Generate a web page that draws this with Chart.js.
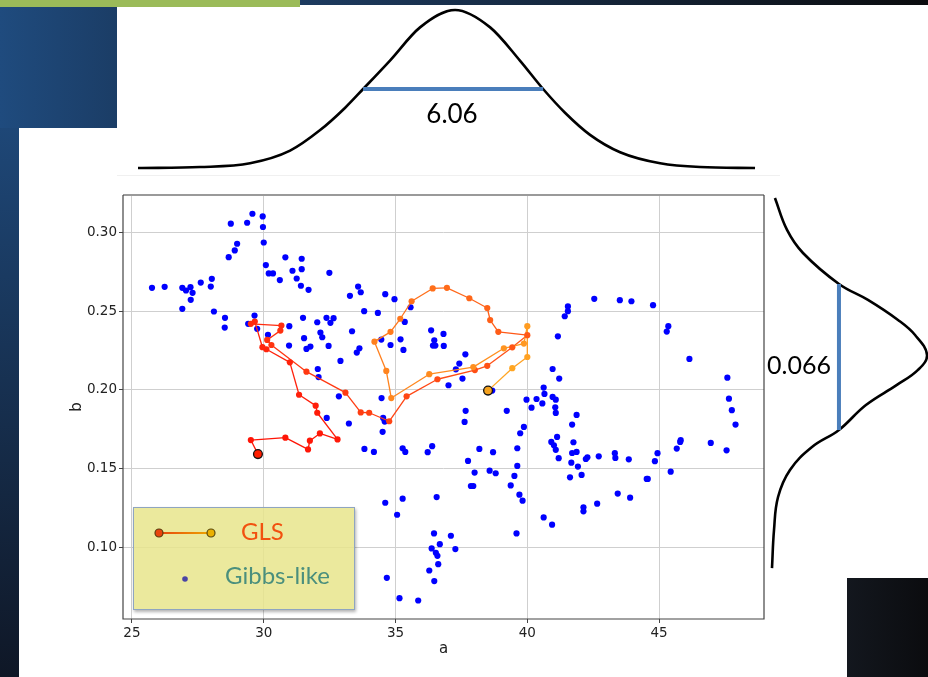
<!DOCTYPE html>
<html>
<head>
<meta charset="utf-8">
<script src="https://cdn.jsdelivr.net/npm/chart.js@4.4.1/dist/chart.umd.min.js"></script>
<style>
  html, body { margin: 0; padding: 0; background: #fff; }
  body { width: 928px; height: 677px; position: relative; overflow: hidden; }
  .deco { position: absolute; }
  canvas { position: absolute; }
  .label { position: absolute; font-family: Lato, sans-serif; color: #000; white-space: nowrap; line-height: 1; }
  .legendText { position: absolute; font-family: Lato, sans-serif; font-size: 24px; line-height: 1; white-space: nowrap; }
</style>
</head>
<body>
<!-- slide decorations -->
<div class="deco" style="left:0;top:0;width:300px;height:7px;background:#9bbb59"></div>
<div class="deco" style="left:300px;top:0;width:628px;height:5px;background:linear-gradient(90deg,#1d3b60,#0b0c0e)"></div>
<div class="deco" style="left:0;top:7px;width:117px;height:121px;background:linear-gradient(90deg,#1f4b7e,#1b3d66)"></div>
<div class="deco" style="left:0;top:128px;width:19px;height:549px;background:linear-gradient(180deg,#1e4777,#0f1726)"></div>
<div class="deco" style="left:847px;top:578px;width:81px;height:99px;background:linear-gradient(90deg,#13171e,#0b0c0f)"></div>
<div class="deco" style="left:117px;top:175px;width:663px;height:1px;background:#f0f0f0"></div>

<canvas id="topCurve" width="641" height="180" style="left:123px;top:0"></canvas>
<canvas id="scatter" width="710" height="490" style="left:60px;top:185px"></canvas>
<canvas id="sideCurve" width="164" height="420" style="left:764px;top:180px"></canvas>

<div class="label" style="left:402px;top:100px;width:100px;text-align:center;font-size:26px">6.06</div>
<div class="label" style="left:767px;top:352px;font-size:25px">0.066</div>

<div class="deco" style="left:133px;top:507px;width:220px;height:101px;background:rgba(232,229,140,0.85);border:1.5px solid #8fa5c0;box-shadow:1px 2px 3px rgba(0,0,0,0.3)"></div>
<svg class="deco" width="223" height="104" style="left:133px;top:507px">
  <defs>
    <linearGradient id="glsGrad" gradientUnits="userSpaceOnUse" x1="26" y1="0" x2="78" y2="0">
      <stop offset="0" stop-color="#e8440c"/>
      <stop offset="1" stop-color="#eea800"/>
    </linearGradient>
  </defs>
  <line x1="26" y1="26" x2="78" y2="26" stroke="url(#glsGrad)" stroke-width="2.2"/>
  <circle cx="26" cy="26" r="4" fill="#e8440c" stroke="#5a3a10" stroke-width="1.2"/>
  <circle cx="78" cy="26" r="4" fill="#eab000" stroke="#5a4a10" stroke-width="1.2"/>
  <circle cx="52" cy="72" r="2.8" fill="#4a45a5"/>
</svg>
<div class="legendText" style="left:241px;top:519px;color:#f2510f">GLS</div>
<div class="legendText" style="left:225px;top:563px;color:#4a8f7d">Gibbs-like</div>

<script>
// Gibbs-like samples (a, b)
const gibbsA = [
  25.76, 26.24, 26.91, 27.05, 27.22, 27.30, 27.23, 26.91, 27.61, 28.03, 27.99, 28.11, 28.53, 28.52, 28.67, 28.75, 28.90, 28.99,
  29.37, 29.57, 29.96, 29.97, 30.00, 30.08, 30.19, 30.35, 30.61, 30.82, 31.09, 31.44, 31.44, 31.25, 31.41, 31.70, 32.49, 29.65,
  29.41, 29.75, 30.16, 30.97, 31.49, 32.03, 32.38, 32.65, 32.53, 32.15, 32.22, 31.53, 31.77, 31.62, 30.96, 32.46, 32.05, 32.08,
  33.58, 33.68, 33.27, 34.61, 34.96, 33.81, 34.33, 35.57, 35.35, 33.35, 34.46, 34.81, 35.19, 35.30, 33.63, 33.53, 32.91, 36.35,
  36.82, 36.47, 36.42, 36.51, 36.83, 37.65, 37.42, 37.29, 37.54, 37.01, 32.85, 34.47, 38.67, 39.97, 40.16, 40.35, 40.57, 40.62, 40.65,
  40.96, 41.08, 41.06, 40.96, 41.21, 41.16, 41.42, 41.54, 41.54, 42.54, 43.51, 43.95, 44.77, 45.35, 45.29, 46.15, 47.59, 47.65,
  32.39,
  37.66, 37.62, 39.22, 39.87, 39.73, 33.23, 34.51, 34.53, 34.59, 33.82, 34.18, 35.27, 35.37, 36.22, 36.39, 38.18, 38.70, 39.62,
  37.75, 38.00, 38.57, 38.80, 39.62, 39.51, 37.86, 37.95, 39.37, 39.70, 39.82, 40.62, 34.61, 35.27, 35.06, 36.56, 39.59, 36.46,
  37.10, 36.68, 36.37, 37.27, 36.53, 36.59, 36.62, 36.28, 36.47, 34.67, 35.15, 35.86,
  41.08, 41.87, 41.70, 47.76, 47.90, 41.13, 40.91, 41.01, 41.08, 41.19, 41.75, 41.70, 41.87, 41.67, 41.92, 42.22, 42.28, 42.71,
  43.32, 43.34, 43.85, 41.62, 42.06, 44.53, 44.57, 43.43, 43.90, 42.65, 42.13, 42.13, 40.94, 44.84, 44.94, 45.44, 45.67, 45.80,
  45.82, 46.96, 47.56
];
const gibbsB = [
  0.2647, 0.2653, 0.2647, 0.2630, 0.2651, 0.2615, 0.2571, 0.2514, 0.2680, 0.2704, 0.2655, 0.2497, 0.2457, 0.2395, 0.2841, 0.3053, 0.2884, 0.2926,
  0.3059, 0.3116, 0.3099, 0.3032, 0.2934, 0.2791, 0.2738, 0.2738, 0.2696, 0.2840, 0.2755, 0.2831, 0.2765, 0.2706, 0.2660, 0.2634, 0.2742, 0.2471,
  0.2419, 0.2387, 0.2349, 0.2404, 0.2457, 0.2429, 0.2457, 0.2455, 0.2425, 0.2364, 0.2334, 0.2328, 0.2275, 0.2260, 0.2281, 0.2279, 0.2133, 0.2082,
  0.2655, 0.2619, 0.2596, 0.2607, 0.2575, 0.2499, 0.2488, 0.2524, 0.2431, 0.2372, 0.2319, 0.2285, 0.2321, 0.2254, 0.2264, 0.2237, 0.2184, 0.2378,
  0.2355, 0.2315, 0.2281, 0.2281, 0.2279, 0.2226, 0.2167, 0.2131, 0.2072, 0.2030, 0.1960, 0.1949, 0.1996, 0.1939, 0.1888, 0.1943, 0.1915, 0.2015, 0.1975,
  0.1956, 0.1939, 0.1890, 0.2133, 0.2072, 0.2340, 0.2467, 0.2499, 0.2529, 0.2577, 0.2569, 0.2562, 0.2537, 0.2404, 0.2370, 0.2197, 0.2078, 0.1945,
  0.1823,
  0.1868, 0.1798, 0.1868, 0.1766, 0.1726, 0.1788, 0.1735, 0.1823, 0.1800, 0.1627, 0.1608, 0.1631, 0.1608, 0.1606, 0.1644, 0.1627, 0.1606, 0.1631,
  0.1551, 0.1477, 0.1489, 0.1473, 0.1519, 0.1456, 0.1392, 0.1392, 0.1396, 0.1337, 0.1299, 0.1193, 0.1286, 0.1312, 0.1210, 0.1322, 0.1092, 0.1092,
  0.1077, 0.1024, 0.0997, 0.0993, 0.0969, 0.0950, 0.0897, 0.0857, 0.0790, 0.0811, 0.0682, 0.0667,
  0.1855, 0.1842, 0.1781, 0.1872, 0.1781, 0.1703, 0.1671, 0.1650, 0.1621, 0.1568, 0.1669, 0.1601, 0.1608, 0.1540, 0.1515, 0.1563, 0.1574, 0.1580,
  0.1600, 0.1570, 0.1561, 0.1447, 0.1462, 0.1437, 0.1437, 0.1344, 0.1318, 0.1280, 0.1257, 0.1232, 0.1147, 0.1549, 0.1600, 0.1483, 0.1629, 0.1671,
  0.1682, 0.1665, 0.1618
];

// GLS path, in order from start to end
const glsA = [
  29.78, 29.51, 30.82, 31.68, 31.75, 32.13, 32.80, 32.03, 31.97, 31.34,
  30.99, 30.10, 29.95, 29.66, 29.51, 30.67, 30.63, 30.13, 30.29, 31.62,
  33.10, 33.68, 34.00, 34.76, 35.42, 36.59, 38.01, 38.48, 39.43, 40.00,
  38.90, 38.59, 38.48, 37.80, 36.95, 36.41, 35.61, 35.18, 34.81, 34.20,
  34.65, 34.84, 36.28, 37.95, 39.11, 39.87, 40.00, 40.00, 39.43, 38.51
];
const glsB = [
  0.1594, 0.1683, 0.1698, 0.1624, 0.1679, 0.1725, 0.1687, 0.1856, 0.1901, 0.1970,
  0.2175, 0.2258, 0.2271, 0.2433, 0.2419, 0.2408, 0.2376, 0.2317, 0.2285, 0.2116,
  0.1983, 0.1858, 0.1856, 0.1802, 0.1960, 0.2068, 0.2126, 0.2153, 0.2270, 0.2347,
  0.2368, 0.2443, 0.2519, 0.2581, 0.2647, 0.2643, 0.2562, 0.2451, 0.2368, 0.2306,
  0.2121, 0.1949, 0.2100, 0.2145, 0.2264, 0.2294, 0.2404, 0.2209, 0.2138, 0.1996
];

const xTickValues = [25, 30, 35, 40, 45];
const yTickValues = [0.10, 0.15, 0.20, 0.25, 0.30];

// marginal curves (relative height)
const topCurveA = [25.23, 27.58, 29.48, 31.00, 32.14, 33.08, 33.77, 34.79, 35.93, 37.26, 38.59, 39.72, 40.60, 41.43, 42.38, 43.52, 45.04, 46.56, 48.64];
const topCurveH = [0.0, 0.006, 0.03, 0.11, 0.24, 0.38, 0.50, 0.68, 0.89, 1.0, 0.89, 0.68, 0.50, 0.35, 0.21, 0.10, 0.03, 0.006, 0.0];
const topWidthA = [33.77, 40.60];
const topWidthH = 0.5;

const sideCurveB = [0.3215, 0.3013, 0.2867, 0.2671, 0.2570, 0.2443, 0.2348, 0.2222, 0.2127, 0.2032, 0.1905, 0.1747, 0.1639, 0.1494, 0.1323, 0.1114, 0.0873];
const sideCurveH = [0.019, 0.097, 0.20, 0.432, 0.619, 0.813, 0.923, 1.0, 0.942, 0.806, 0.606, 0.432, 0.258, 0.116, 0.039, 0.013, 0.0];
const sideWidthB = [0.2671, 0.1747];
const sideWidthH = 0.432;

Chart.defaults.font.family = 'DejaVu Sans';

function glsColor(i) {
  const t = i / (glsA.length - 1);
  const g = Math.round(20 + 150 * Math.pow(t, 1.5));
  const b = Math.round(5 + 30 * t);
  return `rgb(255, ${g}, ${b})`;
}

const gibbsPoints = gibbsA.map((a, i) => ({ x: a, y: gibbsB[i] }));
const glsPoints = glsA.map((a, i) => ({ x: a, y: glsB[i] }));

const framePlugin = {
  id: 'frame',
  afterDraw(chart) {
    const { ctx, chartArea: r } = chart;
    ctx.save();
    ctx.strokeStyle = '#9a9a9a';
    ctx.lineWidth = 2;
    ctx.beginPath();
    ctx.moveTo(r.left, r.top);
    ctx.lineTo(r.right, r.top);
    ctx.stroke();
    ctx.strokeStyle = '#444';
    ctx.lineWidth = 1.2;
    ctx.beginPath();
    ctx.moveTo(r.left, r.top);
    ctx.lineTo(r.left, r.bottom);
    ctx.lineTo(r.right, r.bottom);
    ctx.lineTo(r.right, r.top);
    ctx.stroke();
    ctx.restore();
  }
};

new Chart(document.getElementById('scatter'), {
  type: 'scatter',
  data: {
    datasets: [
      {
        label: 'ends',
        data: [glsPoints[0], glsPoints[glsPoints.length - 1]],
        pointRadius: 4.4,
        pointBackgroundColor: ['#ff1e00', '#f5a21e'],
        pointBorderColor: '#111',
        pointBorderWidth: 1.3
      },
      {
        label: 'GLS',
        data: glsPoints,
        showLine: true,
        borderWidth: 1.3,
        borderColor: '#ff5010',
        pointRadius: 3.1,
        pointBorderWidth: 0,
        pointBackgroundColor: ctx => glsColor(ctx.dataIndex),
        segment: { borderColor: ctx => glsColor(ctx.p0DataIndex) }
      },
      {
        label: 'Gibbs-like',
        data: gibbsPoints,
        pointRadius: 3.1,
        pointBorderWidth: 0,
        pointBackgroundColor: '#0000ff'
      }
    ]
  },
  options: {
    responsive: false,
    animation: false,
    devicePixelRatio: 1,
    layout: { padding: { top: 10, right: 6, left: 0, bottom: 0 } },
    plugins: { legend: { display: false }, tooltip: { enabled: false } },
    scales: {
      x: {
        type: 'linear',
        min: 24.66,
        max: 48.98,
        afterBuildTicks: axis => { axis.ticks = xTickValues.map(v => ({ value: v })); },
        afterFit: axis => { axis.height = 56; },
        ticks: { font: { size: 13.5 }, color: '#222', padding: 2, maxRotation: 0, callback: v => String(v) },
        grid: { color: '#cfcfcf', lineWidth: 1, tickLength: 4, tickColor: '#444' },
        border: { display: false },
        title: { display: true, text: 'a', font: { size: 15 }, color: '#222', padding: { top: 0, bottom: 17 } }
      },
      y: {
        type: 'linear',
        min: 0.055,
        max: 0.3234,
        afterBuildTicks: axis => { axis.ticks = yTickValues.map(v => ({ value: v })); },
        afterFit: axis => { axis.width = 63; },
        ticks: { font: { size: 13.5 }, color: '#222', padding: 2, callback: v => Number(v).toFixed(2) },
        grid: { color: '#cfcfcf', lineWidth: 1, tickLength: 4, tickColor: '#444' },
        border: { display: false },
        title: { display: true, text: 'b', font: { size: 15 }, color: '#222', padding: { top: 8, bottom: 0 } }
      }
    }
  },
  plugins: [framePlugin]
});

// top marginal curve for a
new Chart(document.getElementById('topCurve'), {
  type: 'scatter',
  data: {
    datasets: [
      {
        data: topWidthA.map(a => ({ x: a, y: topWidthH })),
        showLine: true,
        borderColor: '#4a7ebb',
        borderWidth: 4,
        pointRadius: 0
      },
      {
        data: topCurveA.map((a, i) => ({ x: a, y: topCurveH[i] })),
        showLine: true,
        borderColor: '#000',
        borderWidth: 2.6,
        pointRadius: 0,
        cubicInterpolationMode: 'monotone',
        clip: false
      }
    ]
  },
  options: {
    responsive: false,
    animation: false,
    devicePixelRatio: 1,
    plugins: { legend: { display: false }, tooltip: { enabled: false } },
    scales: {
      x: { type: 'linear', display: false, min: 24.66, max: 48.98 },
      y: { type: 'linear', display: false, min: -0.0759, max: 1.0633 }
    }
  }
});

// side marginal curve for b
new Chart(document.getElementById('sideCurve'), {
  type: 'scatter',
  data: {
    datasets: [
      {
        data: sideWidthB.map(b => ({ x: sideWidthH, y: b })),
        showLine: true,
        borderColor: '#4a7ebb',
        borderWidth: 4,
        pointRadius: 0
      },
      {
        data: sideCurveB.map((b, i) => ({ x: sideCurveH[i], y: b })),
        showLine: true,
        borderColor: '#000',
        borderWidth: 2.6,
        pointRadius: 0,
        tension: 0.4,
        clip: false
      }
    ]
  },
  options: {
    responsive: false,
    animation: false,
    devicePixelRatio: 1,
    plugins: { legend: { display: false }, tooltip: { enabled: false } },
    scales: {
      x: { type: 'linear', display: false, min: -0.0516, max: 1.0065 },
      y: { type: 'linear', display: false, min: 0.0671, max: 0.3329 }
    }
  }
});
</script>
</body>
</html>
